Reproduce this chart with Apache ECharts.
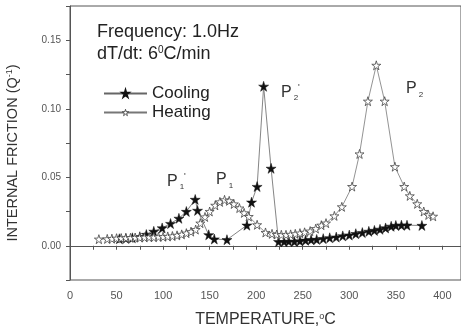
<!DOCTYPE html>
<html lang="en">
<head>
    <meta charset="UTF-8">
    <title>Internal friction vs temperature</title>
    <script src="https://cdn.jsdelivr.net/npm/echarts@6/dist/echarts.min.js"></script>
    <style>
        html, body { margin: 0; padding: 0; background: #fff; }
        #chart { width: 461px; height: 329px; }
    </style>
</head>
<body>
    <div id="chart"></div>
    <script>
        // cooling run (filled stars): [temperature, Q^-1]
        const coolingTemp = [53, 60, 67, 75, 82, 90, 99, 108, 117, 125, 134.5, 137, 149, 155, 168.6,
            190, 195, 201, 208, 216, 224, 230, 235, 241, 247, 253, 259, 265, 272, 279, 286, 293,
            300, 307, 314, 321, 327, 333, 339, 345, 350, 356, 362, 378];
        const coolingQ = [0.0051, 0.0053, 0.0058, 0.0066, 0.0082, 0.0105, 0.013, 0.0162, 0.02, 0.025, 0.0338, 0.0258, 0.008, 0.0049, 0.0044,
            0.015, 0.0318, 0.0432, 0.1164, 0.0565, 0.003, 0.003, 0.0032, 0.0031, 0.0035, 0.004, 0.0044, 0.0046, 0.0052, 0.0058, 0.0063, 0.0072,
            0.0078, 0.0088, 0.0096, 0.0105, 0.0112, 0.012, 0.013, 0.0142, 0.0148, 0.015, 0.015, 0.0148];

        // heating run (open stars)
        const heatingTemp = [31, 40, 45, 50, 55, 60, 65, 70, 75, 80, 85, 90, 95, 100, 105, 110, 115, 120, 125, 130, 135,
            140, 145, 150, 156, 161, 166, 171, 176, 182, 187, 192, 201, 210, 217, 222, 227, 232, 237, 242, 247, 252,
            258, 264, 270, 275, 284, 292, 303, 311, 320, 329, 338, 349, 359, 365, 373, 380, 385, 390];
        const heatingQ = [0.0048, 0.005, 0.0052, 0.0055, 0.0056, 0.0057, 0.0058, 0.006, 0.006, 0.0062, 0.0063, 0.0063, 0.0065, 0.0066, 0.0068, 0.0071, 0.0076, 0.0083, 0.0092, 0.0103, 0.0118,
            0.0165, 0.021, 0.025, 0.0295, 0.032, 0.0335, 0.0328, 0.0305, 0.0275, 0.024, 0.0213, 0.0153, 0.0097, 0.0087, 0.0082, 0.008, 0.008, 0.0083, 0.0087, 0.0092, 0.0098,
            0.0107, 0.0125, 0.015, 0.0165, 0.0218, 0.0284, 0.0432, 0.067, 0.1055, 0.1317, 0.1055, 0.0577, 0.0432, 0.0364, 0.0306, 0.025, 0.0225, 0.0215];

        const seriesNames = ['Cooling', 'Heating'];

        const star = 'path://M50,0 L61,35 L98,35 L68,57 L79,91 L50,70 L21,91 L32,57 L2,35 L39,35 Z';
        const font = 'Liberation Sans, Arial, sans-serif';

        function zip(xs, ys) {
            return xs.map((x, i) => [x, ys[i]]);
        }

        const supStyles = {
            sup: { fontSize: 9, verticalAlign: 'top', padding: [0, 0, 7, 0] }
        };

        // peak labels P1', P1, P2', P2
        function peakLabel(x, y, sub, prime) {
            return {
                type: 'text', left: x, top: y,
                style: {
                    text: '{p|P}{s|' + sub + '}' + (prime ? '{q|\'}' : ''),
                    fontFamily: font,
                    rich: {
                        p: { fontSize: 16, fill: '#333', fontFamily: font },
                        s: { fontSize: 8, fill: '#333', fontFamily: font, padding: [11, 0, 0, 2] },
                        q: { fontSize: 9, fill: '#333', fontFamily: font, padding: [0, 0, 10, 0] }
                    }
                }
            };
        }

        const chart = echarts.init(document.getElementById('chart'), null, { renderer: 'canvas' });
        chart.setOption({
            animation: false,
            backgroundColor: '#fff',
            textStyle: { fontFamily: font },
            grid: {
                left: 70, right: 0, top: 6, bottom: 49,
                outerBoundsMode: 'none',
                show: true, borderColor: '#555', borderWidth: 1
            },
            legend: {
                data: [
                    { name: seriesNames[0], itemStyle: { color: '#111', borderColor: '#111' } },
                    { name: seriesNames[1], itemStyle: { color: '#fff', borderColor: '#333', borderWidth: 0.8 } }
                ],
                left: 98, top: 80, orient: 'vertical',
                itemWidth: 43, itemHeight: 8, itemGap: 2,
                textStyle: { fontSize: 17, color: '#222', fontFamily: font }
            },
            xAxis: {
                type: 'value', min: 0, max: 420, interval: 25,
                name: 'TEMPERATURE,{sup|o}C',
                nameLocation: 'middle', nameGap: 32,
                nameTextStyle: { fontSize: 16, color: '#333', fontFamily: font, rich: supStyles },
                axisLine: { lineStyle: { color: '#555' } },
                axisTick: { length: 4, lineStyle: { color: '#555' } },
                axisLabel: {
                    fontSize: 11, color: '#555', margin: 10,
                    formatter: v => (Math.round(v) % 50 === 0 ? String(v) : '')
                },
                splitLine: { show: false }
            },
            yAxis: {
                type: 'value', min: -0.025, max: 0.175, interval: 0.025,
                name: 'INTERNAL FRICTION (Q{sup|-1})',
                nameLocation: 'middle', nameGap: 49,
                nameTextStyle: {
                    fontSize: 14.5, color: '#333', fontFamily: font, rich: supStyles,
                    padding: [0, 20, 0, 0]
                },
                axisLine: { lineStyle: { color: '#555' } },
                axisTick: { length: 4, lineStyle: { color: '#555' } },
                axisLabel: {
                    fontSize: 10, color: '#555', margin: 9,
                    formatter: v => {
                        const m = Math.round(v * 1000);
                        return (m >= 0 && m % 50 === 0 && m < 175) ? v.toFixed(2) : '';
                    }
                },
                splitLine: { show: false }
            },
            series: [
                {
                    name: seriesNames[0], type: 'line',
                    data: zip(coolingTemp, coolingQ),
                    symbol: star, symbolSize: 10,
                    lineStyle: { color: '#666', width: 0.8 },
                    itemStyle: { color: '#111', borderColor: '#111', borderWidth: 0.5 }
                },
                {
                    name: seriesNames[1], type: 'line',
                    data: zip(heatingTemp, heatingQ),
                    symbol: star, symbolSize: 9,
                    lineStyle: { color: '#777', width: 0.8 },
                    itemStyle: { color: '#fff', borderColor: '#444', borderWidth: 0.8 }
                }
            ],
            graphic: [
                {
                    type: 'text', left: 97, top: 23,
                    style: { text: 'Frequency: 1.0Hz', fontSize: 18, fill: '#222', fontFamily: font }
                },
                {
                    type: 'text', left: 97, top: 45,
                    style: {
                        text: 'dT/dt: 6{sup|0}C/min', fontSize: 18, fill: '#222', fontFamily: font,
                        rich: { sup: { fontSize: 10, fill: '#222', fontFamily: font, padding: [0, 0, 9, 0] } }
                    }
                },
                peakLabel(167, 172, '1', true),
                peakLabel(216, 172, '1', false),
                peakLabel(281, 83, '2', true),
                peakLabel(406, 81, '2', false)
            ]
        });
    </script>
</body>
</html>
